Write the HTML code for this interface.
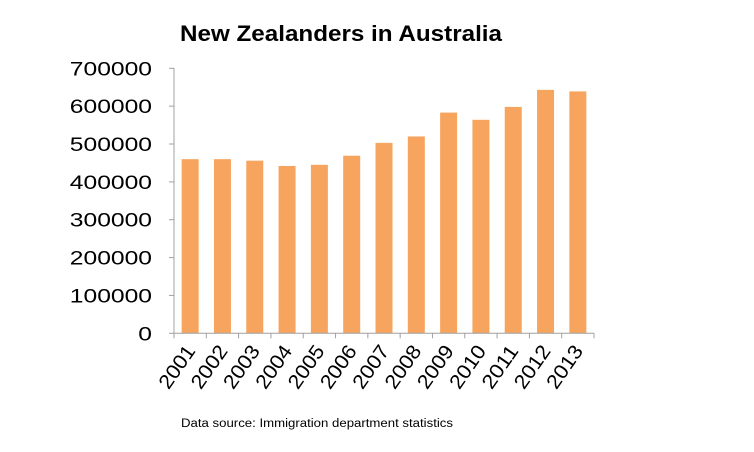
<!DOCTYPE html>
<html><head><meta charset="utf-8"><style>
body{margin:0;background:#fff;}
svg{display:block;font-family:"Liberation Sans",sans-serif;}
</style></head><body>
<svg id="chart" width="754" height="452">
<text x="180" y="41" textLength="322" lengthAdjust="spacingAndGlyphs" font-size="22" font-weight="bold" fill="#000">New Zealanders in Australia</text>
<g id="bars"></g>
<g id="axes"></g>
<text x="181" y="427" textLength="272" lengthAdjust="spacingAndGlyphs" font-size="11.5" fill="#000">Data source: Immigration department statistics</text>
</svg>
<script>
const years=["2001","2002","2003","2004","2005","2006","2007","2008","2009","2010","2011","2012","2013"];
const population=[460000,460000,456000,442000,445000,469000,503000,520000,583000,564000,598000,643000,639000];
const yTicks=[0,100000,200000,300000,400000,500000,600000,700000];
const NS="http://www.w3.org/2000/svg";
const x0=174,x1=594,y0=333.3,yTop=68.3,yMax=700000;
const band=(x1-x0)/years.length;
const yScale=v=>y0-(v/yMax)*(y0-yTop);
const xCenter=i=>x0+band*(i+0.5);
const bars=document.getElementById('bars'),axes=document.getElementById('axes');
function mk(tag,attrs,parent){const e=document.createElementNS(NS,tag);for(const k in attrs)e.setAttribute(k,attrs[k]);parent.appendChild(e);return e;}
population.forEach((v,i)=>{
  const r=mk('rect',{x:xCenter(i)-8.5,y:yScale(v),width:17,height:y0-yScale(v),fill:'#f7a55e'},bars);
  
  
});
const ya=mk('line',{x1:x0,y1:yTop,x2:x0,y2:y0,stroke:'#a0a0a0','stroke-width':1},axes);


const xa=mk('line',{x1:x0,y1:y0,x2:x1,y2:y0,stroke:'#a0a0a0','stroke-width':1},axes);


yTicks.forEach(t=>{
  const y=yScale(t);
  mk('line',{x1:x0-5,y1:y,x2:x0,y2:y,stroke:'#a0a0a0'},axes);
  const s=String(t);
  const w=s.length*13.7;
  const tx=mk('text',{x:152-w,y:y+7,textLength:w,lengthAdjust:'spacingAndGlyphs','font-size':19,fill:'#000'},axes);
  tx.textContent=s;
  
  
});
for(let i=0;i<=years.length;i++){
  const x=x0+band*i;
  mk('line',{x1:x,y1:y0,x2:x,y2:y0+5,stroke:'#a0a0a0'},axes);
}
years.forEach((yr,i)=>{
  const cx=xCenter(i)+6,cy=351;
  const tx=mk('text',{x:cx-48,y:cy,textLength:48,lengthAdjust:'spacingAndGlyphs','font-size':20,fill:'#000',transform:`rotate(-55 ${cx} ${cy})`},axes);
  tx.textContent=yr;
  
  
});
</script>
</body></html>
